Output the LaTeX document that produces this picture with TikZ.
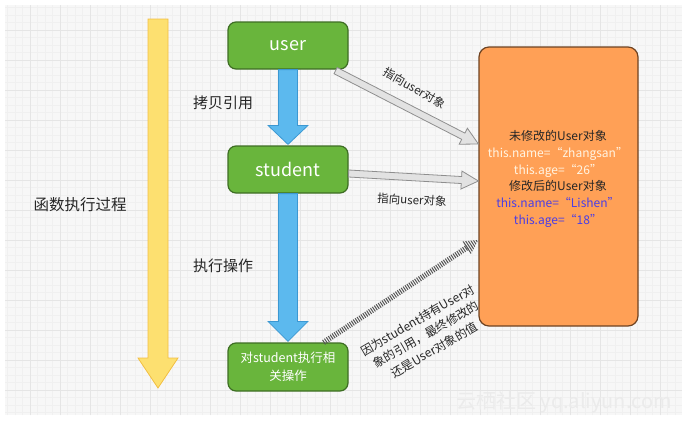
\documentclass[tikz,border=0pt]{standalone}
\usepackage{fontspec}
\setmainfont{Noto Sans CJK SC}
\usetikzlibrary{calc}
\definecolor{grn}{HTML}{69B53C}
\definecolor{grnb}{HTML}{3E6E24}
\definecolor{blu}{HTML}{5CB9EE}
\definecolor{blub}{HTML}{3C98D2}
\definecolor{yel}{HTML}{FDE070}
\definecolor{yelb}{HTML}{F2BE42}
\definecolor{org}{HTML}{FFA056}
\definecolor{orgb}{HTML}{6E4322}
\definecolor{cream}{HTML}{FFF4E2}
\definecolor{purp}{HTML}{4A3EE6}
\definecolor{gfill}{HTML}{E2E2E2}
\definecolor{gline}{HTML}{8E8E8E}
\definecolor{hatchc}{HTML}{555555}
\definecolor{wm}{HTML}{EBEBEB}
\newcommand\getvec[2]{\path let \p1=($(#2)-(#1)$) in \pgfextra{\pgfmathsetmacro\tmpa{atan2(\y1,\x1)}\pgfmathsetmacro\tmpl{veclen(\x1,\y1)}\global\let\vang\tmpa\global\let\vlen\tmpl};}
% #1 style, #2 from, #3 to, #4 shaft half width, #5 head half width, #6 head length
\newcommand\fatarrow[6]{\getvec{#2}{#3}%
 \begin{scope}[shift={(#2)},rotate=\vang]
 \draw[#1] (0,-#4) -- ({\vlen-#6},-#4) -- ({\vlen-#6},-#5) -- (\vlen,0) -- ({\vlen-#6},#5) -- ({\vlen-#6},#4) -- (0,#4) -- cycle;
 \end{scope}}
\begin{document}
\begin{tikzpicture}[x=1pt,y=-1pt,
 greenbox/.style={draw=grnb, fill=grn, rounded corners=8pt, line width=1.2pt, minimum width=120pt, minimum height=47pt, text=white, inner sep=0pt},
 bluearrow/.style={fill=blu, draw=blub, line width=0.8pt, line join=miter},
 yelarrow/.style={fill=yel, draw=yelb, line width=0.8pt},
 grayarrow/.style={fill=gfill, draw=gline, line width=0.8pt},
 hatch/.style={draw=hatchc, dash pattern=on 1pt off 1.3pt},
 lbl/.style={text=black!85, inner sep=0pt},
]
\useasboundingbox (0,0) rectangle (687,423);
\fill[white] (0,0) rectangle (687,423);
\fill[black!3] (5,5) rectangle (682,415);
\draw[black!6, line width=0.3pt] (5,5) grid[step=7.5pt] (682,415);
\draw[black!10, line width=0.5pt] (5,5) grid[step=30pt] (682,415);
\node[text=wm, font=\fontsize{20}{20}\selectfont, inner sep=0pt] (wmk) at (564,402) {云栖社区 yq.aliyun.com};

% yellow timeline arrow
\coordinate (ytop) at (158,19);
\coordinate (ybot) at (158,388);
\fatarrow{yelarrow}{ytop}{ybot}{10}{20}{30}
\node[lbl, font=\fontsize{15.5}{18}\selectfont] (proc) at (80,205) {函数执行过程};

% green boxes
\node[greenbox, font=\fontsize{18}{20}\selectfont] (u) at (288,45.5) {user};
\node[greenbox, font=\fontsize{18}{20}\selectfont] (s) at (288,169.5) {student};
\node[greenbox, minimum height=48pt, align=center, font=\fontsize{12.5}{18}\selectfont] (b) at (288,367) {对student执行相\\关操作};

% blue arrows
\coordinate (u1) at (u.south);
\coordinate (s1) at ($(s.north)+(0,-1)$);
\fatarrow{bluearrow}{u1}{s1}{9.5}{20}{19}
\coordinate (s2) at (s.south);
\coordinate (b1) at ($(b.north)+(0,-1)$);
\fatarrow{bluearrow}{s2}{b1}{9.5}{20}{20}
\node[lbl, font=\fontsize{15}{18}\selectfont] (copy) at (223,103) {拷贝引用};
\node[lbl, font=\fontsize{15}{18}\selectfont] (exec) at (223,266) {执行操作};

% orange object box
\node[draw=orgb, fill=org, rounded corners=10pt, line width=1.2pt, minimum width=159pt, minimum height=279pt, inner sep=0pt] (o) at (558.5,186.5) {};
\node[align=center, inner sep=0pt, font=\fontsize{12}{16.8}\selectfont] (otext) at (558,179) {%
\textcolor{black!85}{未修改的User对象}\\
\textcolor{cream}{this.name=“zhangsan”}\\
\textcolor{cream}{this.age=“26”}\\
\textcolor{black!85}{修改后的User对象}\\
\textcolor{purp}{this.name=“Lishen”}\\
\textcolor{purp}{this.age=“18”}};

% gray reference arrows
\coordinate (g1a) at ($(u.south east)+(-13,1)$);
\coordinate (g1b) at ($(o.west)+(0,-42.5)$);
\fatarrow{grayarrow}{g1a}{g1b}{3.5}{9}{17}
\coordinate (g2a) at ($(s.east)+(0,4)$);
\coordinate (g2b) at ($(o.west)+(0,-5.5)$);
\fatarrow{grayarrow}{g2a}{g2b}{3.5}{9}{17}
\node[lbl, rotate=-30, font=\fontsize{11.5}{14}\selectfont] (l1) at (415,88) {指向user对象};
\node[lbl, rotate=-3, font=\fontsize{11.5}{14}\selectfont] (l2) at (412,200) {指向user对象};

% hatched arrow
\coordinate (h1) at ($(b.north east)+(-25,0)$);
\coordinate (h2) at ($(o.west)+(0,53.5)$);
\getvec{h1}{h2}
\begin{scope}[shift={(h1)},rotate=\vang]
 \draw[hatch, line width=5.5pt] (0,0) -- ({\vlen-13},0);
 \clip ({\vlen-14},-7.5) -- (\vlen,0) -- ({\vlen-14},7.5) -- cycle;
 \draw[hatch, line width=16pt] ({\vlen-14},0) -- (\vlen,0);
\end{scope}
\node[lbl, rotate=30, align=center, font=\fontsize{12}{17}\selectfont] (l3) at (426,335) {因为student持有User对\\象的引用，最终修改的\\还是User对象的值};
\end{tikzpicture}
\end{document}
